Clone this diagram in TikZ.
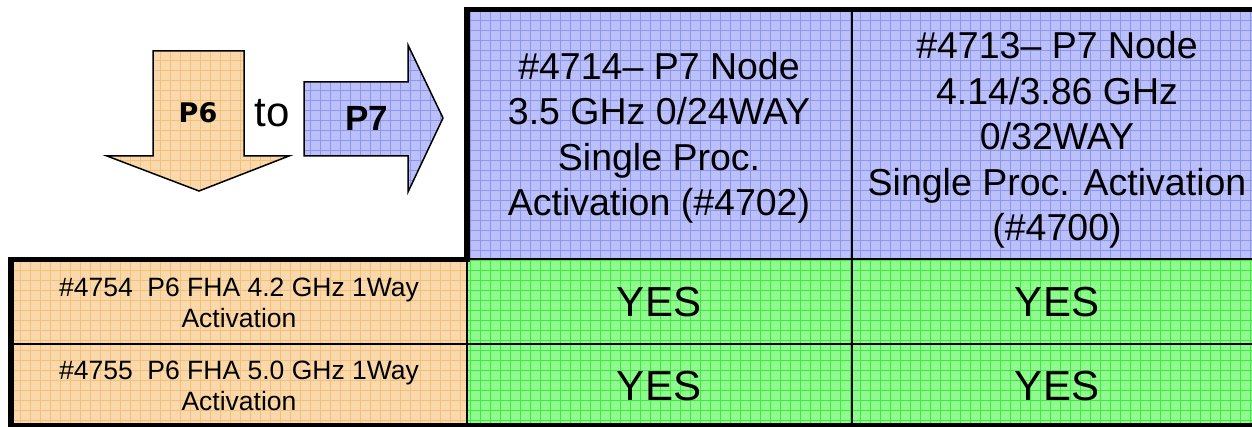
\documentclass[tikz,border=0pt]{standalone}
\usepackage{fontspec}
\setmainfont{Liberation Sans}
\newfontfamily\wideface{DejaVu Sans}
\usepackage{tikz}

\definecolor{orangefill}{HTML}{F9D8AC}
\definecolor{orangegrid}{HTML}{F4BF78}
\definecolor{bluefill}{HTML}{BCC0F8}
\definecolor{bluegrid}{HTML}{8C95F2}
\definecolor{greenfill}{HTML}{90F990}
\definecolor{greengrid}{HTML}{3DEB3D}

\begin{document}
\begin{tikzpicture}[x=1pt,y=-1pt,
    headtext/.style={align=center,font=\fontsize{37.5}{45.5}\selectfont},
    rowtext/.style={align=center,font=\fontsize{26.5}{31}\selectfont},
    yestext/.style={font=\fontsize{42}{50}\selectfont},
    thickrule/.style={line width=5.5pt},
    thinrule/.style={line width=2.5pt},
    gridlines/.style={line width=0.7pt,step=10pt}]
    \useasboundingbox (0,0) rectangle (1252,427);

    % cell fills with grid texture
    \fill[bluefill] (467,9) rectangle (1252,259);
    \draw[bluegrid,gridlines] (467,9) grid (1252,259);
    \fill[orangefill] (11,259) rectangle (467,425);
    \draw[orangegrid,gridlines] (11,259) grid (467,425);
    \fill[greenfill] (467,259) rectangle (1252,425);
    \draw[greengrid,gridlines] (467,259) grid (1252,425);

    % arrows
    \begin{scope}
        \path[clip] (153,51) -- (244,51) -- (244,156) -- (289,156) -- (199,191) -- (107,156) -- (153,156) -- cycle;
        \fill[orangefill] (100,40) rectangle (300,200);
        \draw[orangegrid,gridlines] (100,40) grid (300,200);
    \end{scope}
    \draw[line width=1.5pt,line join=miter] (153,51) -- (244,51) -- (244,156) -- (289,156) -- (199,191) -- (107,156) -- (153,156) -- cycle;
    \begin{scope}
        \path[clip] (304,82) -- (408,82) -- (408,45) -- (443,118) -- (408,192) -- (408,156) -- (304,156) -- cycle;
        \fill[bluefill] (300,40) rectangle (450,200);
        \draw[bluegrid,gridlines] (300,40) grid (450,200);
    \end{scope}
    \draw[line width=1.5pt,line join=miter] (304,82) -- (408,82) -- (408,45) -- (443,118) -- (408,192) -- (408,156) -- (304,156) -- cycle;

    \node (pfrom) at (198,113) {\wideface\bfseries\fontsize{27}{30}\selectfont P6};
    \node (pto) at (272,113) {\fontsize{42}{50}\selectfont to};
    \node (pnew) at (367,118) {\bfseries\fontsize{35}{45}\selectfont P7};

    % table rules
    \draw[thickrule] (464.25,9.5) -- (1252,9.5);
    \draw[thickrule] (467,7) -- (467,262);
    \draw[thinrule] (852,9) -- (852,425);
    \draw[thinrule] (467,259) -- (1252,259);
    \draw[thickrule] (8.25,259.5) -- (467,259.5);
    \draw[thickrule] (10.75,257) -- (10.75,427);
    \draw[thinrule] (467,259) -- (467,425);
    \draw[thinrule] (11,344) -- (1252,344);
    \draw[line width=4pt] (11,425) -- (1252,425);

    % header cells
    \node[headtext] (hdnode) at (659,138) {\#4714– P7 Node\\3.5 GHz 0/24WAY\\Single Proc.\\Activation (\#4702)};
    \node[headtext] (hdnodeb) at (1057,140) {\#4713– P7 Node\\4.14/3.86 GHz\\0/32WAY\\Single Proc. Activation\\(\#4700)};

    % row cells
    \node[rowtext] (rowa) at (239,303) {\#4754~~P6 FHA 4.2 GHz 1Way\\Activation};
    \node[rowtext] (rowb) at (239,386) {\#4755~~P6 FHA 5.0 GHz 1Way\\Activation};

    \node[yestext] (yesaa) at (659,302) {YES};
    \node[yestext] (yesab) at (1057,302) {YES};
    \node[yestext] (yesba) at (659,386) {YES};
    \node[yestext] (yesbb) at (1057,386) {YES};
\end{tikzpicture}
\end{document}
